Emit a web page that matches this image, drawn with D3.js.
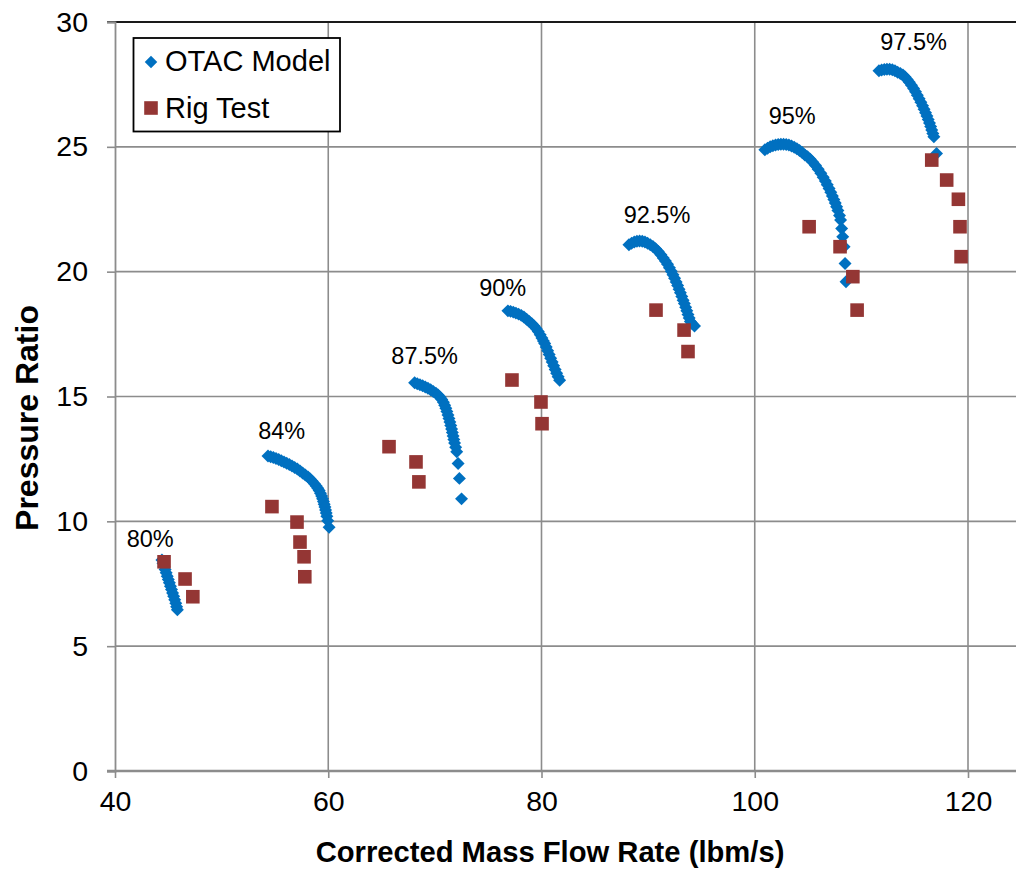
<!DOCTYPE html>
<html>
<head>
<meta charset="utf-8">
<script src="https://cdn.jsdelivr.net/npm/d3@7/dist/d3.min.js"></script>
<style>
  html, body { margin: 0; padding: 0; background: #fff; }
  svg { display: block; font-family: Arial, "Liberation Sans", sans-serif; }
</style>
</head>
<body>
<svg id="chart" width="1016" height="869"></svg>
<script>
// OTAC model speed lines: [corrected flow (lbm/s), pressure ratio]
const otac80 = [
  [44.4, 8.45], [44.5, 8.32], [44.6, 8.2], [44.7, 8.07], [44.8, 7.94], [44.9, 7.8],
  [45.0, 7.67], [45.1, 7.54], [45.2, 7.4], [45.3, 7.27], [45.4, 7.13], [45.5, 7.0],
  [45.6, 6.86], [45.7, 6.72], [45.78, 6.58], [45.85, 6.46]
];
const otac84 = [
  [54.35, 12.62], [54.6, 12.59], [54.85, 12.56], [55.1, 12.52], [55.35, 12.48], [55.6, 12.43],
  [55.85, 12.38], [56.1, 12.33], [56.35, 12.28], [56.6, 12.22], [56.85, 12.16], [57.1, 12.1],
  [57.35, 12.02], [57.6, 11.94], [57.85, 11.86], [58.1, 11.78], [58.3, 11.7], [58.5, 11.61],
  [58.7, 11.51], [58.87, 11.42], [59.02, 11.33], [59.15, 11.23], [59.27, 11.12], [59.38, 11.01],
  [59.47, 10.9], [59.55, 10.79], [59.62, 10.68], [59.69, 10.57], [59.75, 10.45], [59.81, 10.33],
  [59.87, 10.2], [59.95, 10.02], [60.08, 9.76]
];
const otac875 = [
  [68.1, 15.55], [68.35, 15.51], [68.6, 15.47], [68.85, 15.43], [69.1, 15.38], [69.35, 15.33],
  [69.6, 15.27], [69.85, 15.2], [70.1, 15.13], [70.3, 15.06], [70.5, 14.97], [70.65, 14.88],
  [70.8, 14.77], [70.92, 14.65], [71.03, 14.53], [71.13, 14.4], [71.23, 14.26], [71.32, 14.12],
  [71.41, 13.98], [71.49, 13.84], [71.57, 13.7], [71.64, 13.56], [71.71, 13.42], [71.78, 13.28],
  [71.85, 13.14], [71.95, 12.97], [72.05, 12.79], [72.18, 12.32], [72.3, 11.72], [72.5, 10.9]
];
const otac90 = [
  [76.85, 18.43], [77.1, 18.41], [77.35, 18.38], [77.6, 18.34], [77.85, 18.3], [78.1, 18.25],
  [78.35, 18.18], [78.6, 18.09], [78.85, 18.0], [79.1, 17.91], [79.3, 17.82], [79.5, 17.72],
  [79.7, 17.6], [79.88, 17.47], [80.04, 17.34], [80.18, 17.22], [80.3, 17.12], [80.44, 16.98],
  [80.58, 16.83], [80.72, 16.68], [80.86, 16.53], [81.0, 16.38], [81.14, 16.23], [81.28, 16.08],
  [81.42, 15.93], [81.56, 15.79], [81.7, 15.65]
];
const otac925 = [
  [88.2, 21.08], [88.45, 21.14], [88.7, 21.19], [88.95, 21.22], [89.2, 21.23], [89.45, 21.22],
  [89.7, 21.19], [89.95, 21.14], [90.2, 21.08], [90.45, 21.01], [90.7, 20.92], [90.95, 20.81],
  [91.2, 20.68], [91.42, 20.55], [91.62, 20.43], [91.82, 20.3], [92.0, 20.16], [92.17, 20.02],
  [92.33, 19.88], [92.48, 19.74], [92.63, 19.59], [92.77, 19.45], [92.9, 19.3], [93.03, 19.16],
  [93.16, 19.01], [93.28, 18.86], [93.4, 18.72], [93.52, 18.57], [93.63, 18.43], [93.74, 18.28],
  [93.85, 18.14], [93.96, 18.0], [94.12, 17.92], [94.35, 17.82]
];
const otac95 = [
  [100.95, 24.88], [101.2, 24.94], [101.45, 25.0], [101.7, 25.04], [101.95, 25.07], [102.2, 25.09],
  [102.45, 25.1], [102.7, 25.1], [102.95, 25.09], [103.2, 25.07], [103.45, 25.03], [103.7, 24.98],
  [103.95, 24.92], [104.2, 24.85], [104.45, 24.77], [104.7, 24.67], [104.95, 24.6], [105.2, 24.5],
  [105.45, 24.38], [105.7, 24.25], [105.95, 24.1], [106.2, 23.94], [106.42, 23.78], [106.62, 23.63],
  [106.8, 23.48], [106.97, 23.33], [107.13, 23.18], [107.28, 23.03], [107.42, 22.89], [107.55, 22.75],
  [107.68, 22.6], [107.8, 22.45], [107.95, 22.25], [108.05, 22.07], [108.15, 21.73], [108.25, 21.4],
  [108.38, 21.0], [108.47, 20.33], [108.56, 19.6]
];
const otac975 = [
  [111.65, 28.05], [111.9, 28.08], [112.15, 28.1], [112.4, 28.11], [112.65, 28.11], [112.9, 28.09],
  [113.15, 28.05], [113.4, 27.99], [113.65, 27.94], [113.9, 27.88], [114.1, 27.8], [114.3, 27.7],
  [114.5, 27.59], [114.7, 27.47], [114.9, 27.34], [115.08, 27.21], [115.25, 27.07], [115.42, 26.93],
  [115.58, 26.79], [115.74, 26.65], [115.88, 26.51], [116.02, 26.37], [116.15, 26.23], [116.27, 26.09],
  [116.39, 25.95], [116.5, 25.81], [116.6, 25.67], [116.7, 25.53], [116.8, 25.4], [117.05, 24.73]
];

// Rig test measurements: [corrected flow (lbm/s), pressure ratio]
const rigTest = [
  [44.6, 8.38], [46.57, 7.69], [47.3, 6.98],
  [54.72, 10.59], [57.07, 9.97], [57.35, 9.17], [57.73, 8.58], [57.8, 7.78],
  [65.7, 12.99], [68.23, 12.38], [68.5, 11.58],
  [77.23, 15.66], [79.95, 14.78], [80.05, 13.91],
  [90.74, 18.46], [93.37, 17.66], [93.74, 16.8],
  [105.1, 21.8], [108.0, 21.0], [109.2, 19.8], [109.6, 18.46],
  [116.6, 24.47], [118.0, 23.67], [119.1, 22.9], [119.25, 21.8], [119.35, 20.6]
];

// Speed-line labels: [text, flow at label centre, pressure ratio at baseline]
const speedLabels = [
  ["80%", 43.3, 8.98], ["84%", 55.63, 13.28], ["87.5%", 69.04, 16.3], ["90%", 76.36, 19.04],
  ["92.5%", 90.83, 21.93], ["95%", 103.51, 25.91], ["97.5%", 114.9, 28.88]
];

const xTicks = [40, 60, 80, 100, 120];
const yTicks = [0, 5, 10, 15, 20, 25, 30];
const seriesNames = ["OTAC Model", "Rig Test"];

const otacAll = [otac80, otac84, otac875, otac90, otac925, otac95, otac975];

const blue = "#0070C0";
const red = "#943634";
const gridColor = "#8c8c8c";

const svg = d3.select("#chart");
const x = d3.scaleLinear().domain([40, 120]).range([115, 968]);
const y = d3.scaleLinear().domain([0, 30]).range([771, 22]);
const plotRight = 1016;

// gridlines
svg.append("g").selectAll("line.v").data(xTicks.slice(1)).join("line")
  .attr("x1", d => x(d)).attr("x2", d => x(d)).attr("y1", y(30)).attr("y2", y(0))
  .attr("stroke", gridColor).attr("stroke-width", 1.6);
svg.append("g").selectAll("line.h").data(yTicks.filter(d => d > 0 && d < 30)).join("line")
  .attr("x1", x(40)).attr("x2", plotRight).attr("y1", d => y(d)).attr("y2", d => y(d))
  .attr("stroke", gridColor).attr("stroke-width", 1.6);
// top border
svg.append("line").attr("x1", x(40) - 8).attr("x2", plotRight).attr("y1", y(30)).attr("y2", y(30))
  .attr("stroke", "#1a1a1a").attr("stroke-width", 2);

// y axis
const yAxis = svg.append("g").attr("transform", `translate(${x(40)},0)`)
  .call(d3.axisLeft(y).tickValues(yTicks).tickSize(8).tickPadding(19));
yAxis.select(".domain").attr("stroke", gridColor).attr("stroke-width", 1.8);
yAxis.selectAll(".tick line").attr("stroke", gridColor).attr("stroke-width", 1.6);
yAxis.selectAll(".tick text").attr("font-size", 28.5).attr("fill", "#000")
  .attr("font-family", "Arial, 'Liberation Sans', sans-serif");

// x axis
const xAxis = svg.append("g").attr("transform", `translate(0,${y(0)})`)
  .call(d3.axisBottom(x).tickValues(xTicks).tickSize(7).tickPadding(13));
xAxis.select(".domain").remove();
xAxis.append("line").attr("x1", x(40) - 8).attr("x2", plotRight).attr("y1", 0).attr("y2", 0)
  .attr("stroke", gridColor).attr("stroke-width", 2.6);
xAxis.selectAll(".tick line").attr("stroke", gridColor).attr("stroke-width", 1.6);
xAxis.selectAll(".tick text").attr("font-size", 28.5).attr("fill", "#000")
  .attr("font-family", "Arial, 'Liberation Sans', sans-serif");

// axis titles
svg.append("text").attr("x", 550).attr("y", 862).attr("text-anchor", "middle")
  .attr("font-size", 29.2).attr("font-weight", "bold").text("Corrected Mass Flow Rate (lbm/s)");
svg.append("text").attr("transform", `translate(38,418) rotate(-90)`).attr("text-anchor", "middle")
  .attr("font-size", 32).attr("font-weight", "bold").text("Pressure Ratio");

// OTAC model diamonds
const diamond = d3.symbol().type(d3.symbolSquare).size(84);
svg.append("g").selectAll("g").data(otacAll).join("g")
  .selectAll("path").data(d => d).join("path")
  .attr("d", diamond)
  .attr("transform", d => `translate(${x(d[0])},${y(d[1])}) rotate(45)`)
  .attr("fill", blue);

// Rig test squares
const square = d3.symbol().type(d3.symbolSquare).size(185);
svg.append("g").selectAll("path").data(rigTest).join("path")
  .attr("d", square)
  .attr("transform", d => `translate(${x(d[0])},${y(d[1])})`)
  .attr("fill", red);

// speed labels
svg.append("g").selectAll("text").data(speedLabels).join("text")
  .attr("x", d => x(d[1])).attr("y", d => y(d[2]))
  .attr("text-anchor", "middle").attr("font-size", 23.5).attr("fill", "#000")
  .text(d => d[0]);

// legend
const legend = svg.append("g");
legend.append("rect").attr("x", 133.5).attr("y", 38).attr("width", 206.5).attr("height", 93.5)
  .attr("fill", "#fff").attr("stroke", "#000").attr("stroke-width", 1.8);
legend.append("path").attr("d", d3.symbol().type(d3.symbolSquare).size(78))
  .attr("transform", "translate(151,62) rotate(45)").attr("fill", blue);
legend.append("path").attr("d", d3.symbol().type(d3.symbolSquare).size(185))
  .attr("transform", "translate(151,108)").attr("fill", red);
legend.selectAll("text").data(seriesNames).join("text")
  .attr("x", 165).attr("y", (d, i) => 71 + i * 47)
  .attr("font-size", 29).attr("fill", "#000").text(d => d);
</script>
</body>
</html>
